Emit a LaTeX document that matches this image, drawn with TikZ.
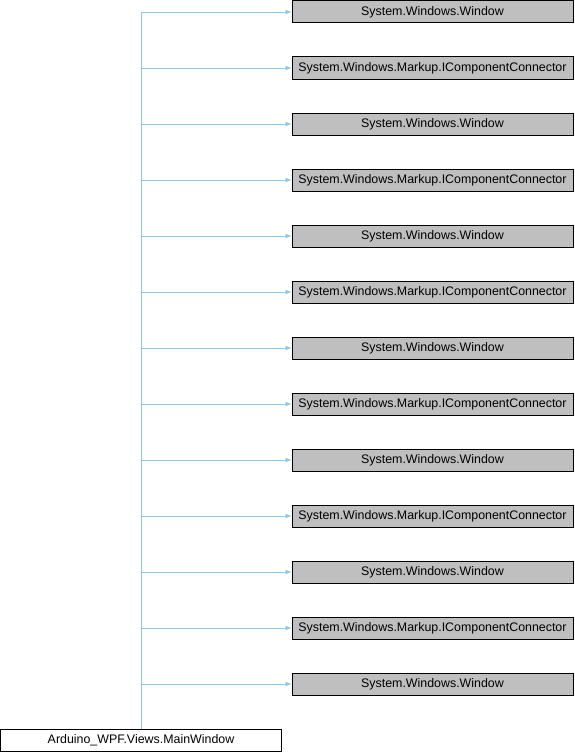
\documentclass[tikz,border=0pt]{standalone}
\usepackage{fontspec}
\setmainfont{Liberation Sans}
\usetikzlibrary{arrows.meta}
\definecolor{edgeblue}{RGB}{140,200,235}
\definecolor{basegray}{RGB}{191,191,191}
\begin{document}
\begin{tikzpicture}[x=1pt,y=-1pt,
  classbox/.style={draw=black, line width=1pt, minimum width=281pt, minimum height=22pt,
    inner sep=0pt, font=\fontsize{12.4}{14}\selectfont},
  basebox/.style={classbox, fill=basegray},
  inherit/.style={draw=edgeblue, line width=0.8pt, -{Latex[length=6pt,width=5pt]}}]
\useasboundingbox (0,0) rectangle (574,752);
\node[classbox, fill=white] (main) at (141,740) {Arduino\_WPF.Views.MainWindow};
\foreach \i in {0,...,12}{
  \pgfmathsetmacro{\yc}{12+56*\i}
  \ifodd\i
    \node[basebox] (b\i) at (432.5,\yc) {System.Windows.Markup.IComponentConnector};
  \else
    \node[basebox] (b\i) at (432.5,\yc) {System.Windows.Window};
  \fi
  \draw[inherit] (main.north) |- (b\i.west);
}
\end{tikzpicture}
\end{document}
